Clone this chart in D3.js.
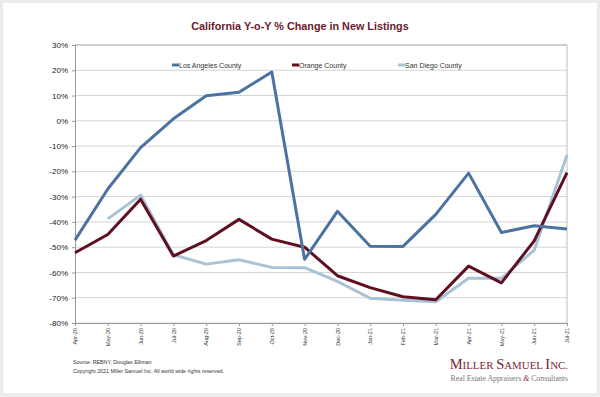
<!DOCTYPE html>
<html><head><meta charset="utf-8">
<script src="https://cdn.jsdelivr.net/npm/d3@7"></script>
<style>
body{margin:0;background:#ececec;}
svg{display:block;}
</style></head>
<body>
<svg id="c" width="600" height="397"></svg>
<script>
const months = ["Apr-20","May-20","Jun-20","Jul-20","Aug-20","Sep-20","Oct-20","Nov-20","Dec-20","Jan-21","Feb-21","Mar-21","Apr-21","May-21","Jun-21","Jul-21"];
const laValues = [-47.2,-27,-10.6,0.8,9.9,11.3,19.3,-54.8,-35.8,-49.6,-49.7,-37,-20.7,-44.2,-41.5,-42.8];
const ocValues = [-52.2,-45,-31,-53.5,-47.4,-39,-46.8,-50,-61.3,-66,-69.6,-70.8,-57.5,-64.1,-47.5,-20.5];
const sdValues = [null,-38.8,-29.4,-53,-56.7,-55,-58,-58.1,-63.5,-70.2,-71,-71.6,-62.3,-62.3,-51.2,-13.5];
const yTicks = [30,20,10,0,-10,-20,-30,-40,-50,-60,-70,-80];
const seriesNames = ["Los Angeles County","Orange County","San Diego County"];
const seriesColors = ["#4a73a1","#5e1020","#a8c3d7"];

const svg = d3.select("#c");
svg.append("rect").attr("x",3).attr("y",3).attr("width",594).attr("height",390).attr("fill","#fff");

const L=75,R=567,T=45,B=323;
const x = d3.scalePoint().domain(months).range([L,R]);
const y = d3.scaleLinear().domain([-80,30]).range([B,T]);

svg.append("text").attr("x",300).attr("y",30).attr("text-anchor","middle")
  .attr("font-family","Liberation Sans, Arial, sans-serif").attr("font-weight","bold")
  .attr("font-size",10.8).attr("fill","#6a1a2c").text("California Y-o-Y % Change in New Listings");

// grid
svg.append("g").selectAll("line").data(yTicks).join("line")
  .attr("x1",L).attr("x2",R).attr("y1",d=>y(d)).attr("y2",d=>y(d))
  .attr("stroke",(d)=>d===30?"#9a9a9a":"#d4d4d4").attr("stroke-width",1);
svg.append("line").attr("x1",R).attr("x2",R).attr("y1",T).attr("y2",B).attr("stroke","#bdbdbd");

// y axis
const ya = svg.append("g").attr("transform",`translate(${L},0)`)
  .call(d3.axisLeft(y).tickValues(yTicks).tickFormat(d=>d+"%").tickSize(3).tickPadding(4));
ya.select(".domain").attr("stroke","#9a9a9a");
ya.selectAll(".tick line").attr("stroke","#9a9a9a");
ya.selectAll("text").attr("font-family","Liberation Sans, Arial, sans-serif").attr("font-size",8).attr("fill","#222");

// x axis
const xa = svg.append("g").attr("transform",`translate(0,${B})`)
  .call(d3.axisBottom(x).tickSize(3).tickPadding(3));
xa.select(".domain").attr("stroke","#9a9a9a");
xa.selectAll(".tick line").attr("stroke","#9a9a9a");
xa.selectAll("text").attr("font-family","Liberation Sans, Arial, sans-serif").attr("font-size",5.5).attr("fill","#333")
  .attr("transform","rotate(-90)").attr("text-anchor","end").attr("dy","0.32em").attr("x",-5).attr("y",0);

// lines
const allSeries=[laValues,ocValues,sdValues];
const line = d3.line().defined(d=>d.v!==null).x(d=>x(d.m)).y(d=>y(d.v));
[2,1,0].forEach(i=>{
  const data = months.map((m,j)=>({m,v:allSeries[i][j]}));
  svg.append("path").datum(data).attr("d",line).attr("fill","none")
    .attr("stroke",seriesColors[i]).attr("stroke-width",3).attr("stroke-linejoin","round");
});

// legend
const lx=[172,292,398];
seriesNames.forEach((n,i)=>{
  svg.append("rect").attr("x",lx[i]).attr("y",63.5).attr("width",7).attr("height",3).attr("fill",seriesColors[i]);
  svg.append("text").attr("x",lx[i]+7).attr("y",67.5).attr("font-family","Liberation Sans, Arial, sans-serif")
    .attr("font-size",7).attr("fill","#333").text(n);
});

// footer
svg.append("text").attr("x",73).attr("y",364).attr("font-family","Liberation Sans, Arial, sans-serif").attr("font-size",5.3).attr("fill","#333").text("Source: REBNY, Douglas Elliman");
svg.append("text").attr("x",73).attr("y",373).attr("font-family","Liberation Sans, Arial, sans-serif").attr("font-size",5.3).attr("fill","#333").text("Copyright 2021 Miller Samuel Inc.  All world wide rights reserved.");

const logo = svg.append("text").attr("x",568).attr("y",369).attr("text-anchor","end")
  .attr("font-family","Liberation Serif, Times New Roman, serif").attr("fill","#7a2535").attr("font-size",14.5);
logo.append("tspan").text("M");
logo.append("tspan").attr("font-size",10.9).text("ILLER ");
logo.append("tspan").text("S");
logo.append("tspan").attr("font-size",10.9).text("AMUEL ");
logo.append("tspan").text("I");
logo.append("tspan").attr("font-size",10.9).text("NC.");
const sub = svg.append("text").attr("x",568).attr("y",381).attr("text-anchor","end")
  .attr("font-family","Liberation Serif, Times New Roman, serif").attr("fill","#777").attr("font-size",7.8);
sub.append("tspan").text("Real Estate Appraisers ");
sub.append("tspan").attr("fill","#7a2535").attr("font-style","italic").text("&");
sub.append("tspan").text(" Consultants");
</script>
</body></html>
